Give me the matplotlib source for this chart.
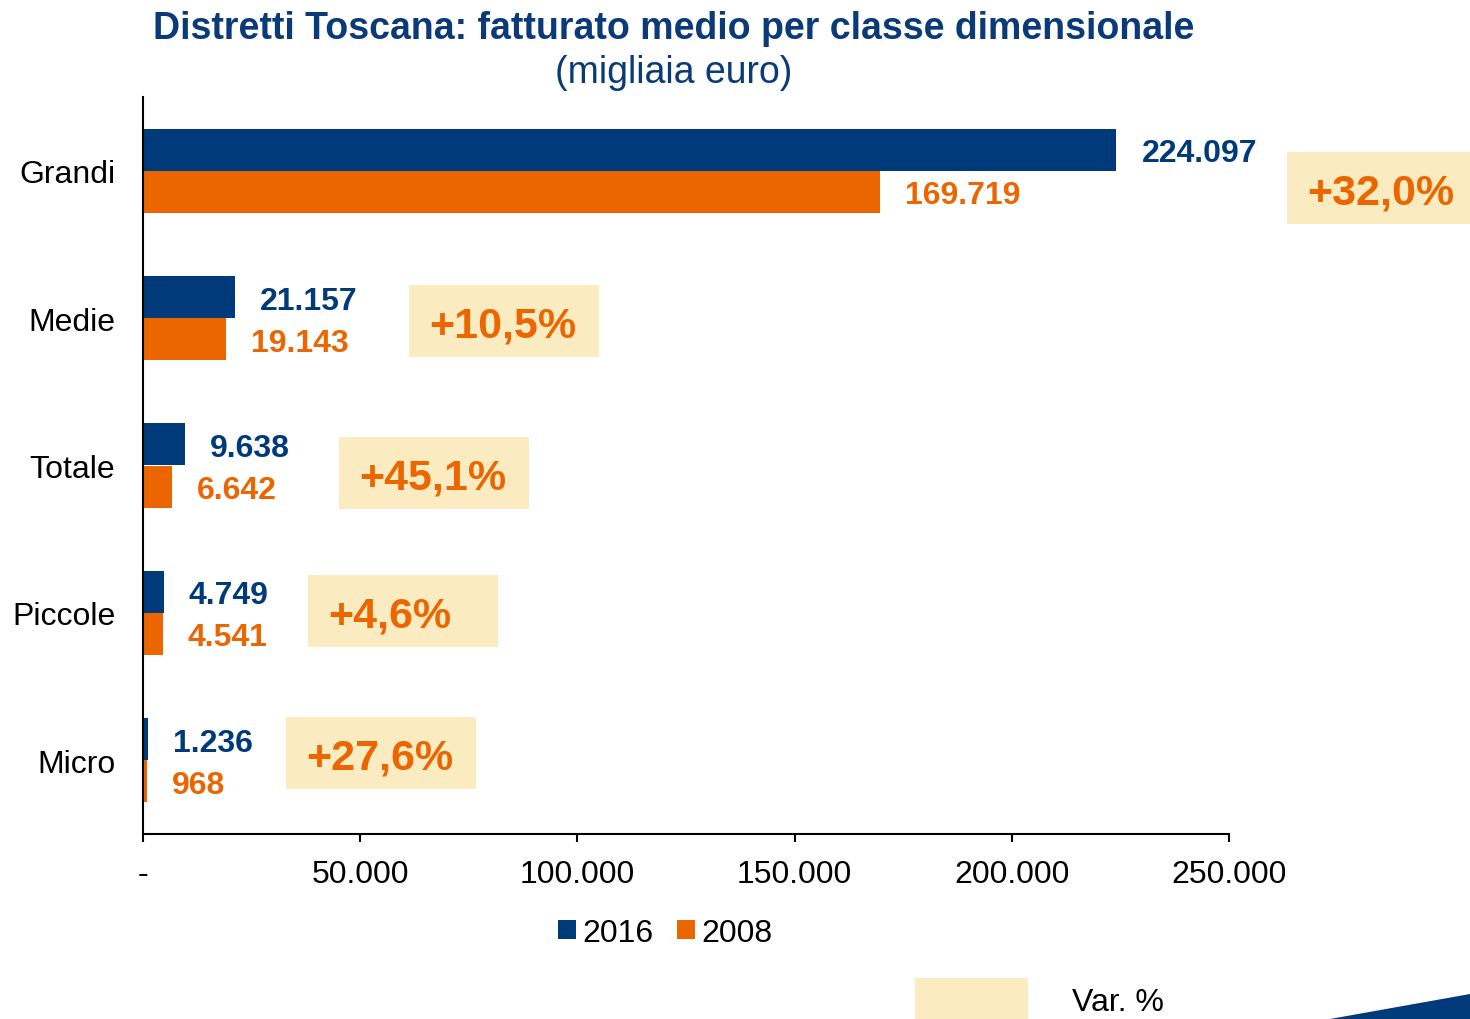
import matplotlib
matplotlib.use("Agg")
import matplotlib.pyplot as plt
from matplotlib.patches import Rectangle, Polygon
from matplotlib.ticker import FuncFormatter

# ---------------- data ----------------
categories = ["Grandi", "Medie", "Totale", "Piccole", "Micro"]
values_2016 = [224097, 21157, 9638, 4749, 1236]
values_2008 = [169719, 19143, 6642, 4541, 968]
var_pct = ["+32,0%", "+10,5%", "+45,1%", "+4,6%", "+27,6%"]
series_labels = ["2016", "2008"]
x_ticks = [0, 50000, 100000, 150000, 200000, 250000]

# ---------------- layout (positions only) ----------------
box_left = [263352, 61234, 45120, 37983, 32919]      # data x of the Var.% boxes
box_dy = [0.12, 0.02, 0.05, -0.01, -0.05]            # vertical offset of boxes (category units)

BLUE = "#003A7A"
ORANGE = "#EB6600"
BOX = "#FAEBC0"
TITLE = "#0B3A78"

plt.rcParams["font.family"] = ["Liberation Sans", "DejaVu Sans"]

fig = plt.figure(figsize=(14.7, 10.2), dpi=100)
ax = fig.add_axes([143/1470, 1 - 835/1020, (1229-143)/1470, (835-98)/1020])

n = len(categories)
ypos = list(range(n))
h = 0.285
ax.barh([y - h/2 for y in ypos], values_2016, height=h, color=BLUE, label=series_labels[0])
ax.barh([y + h/2 for y in ypos], values_2008, height=h, color=ORANGE, label=series_labels[1])

ax.set_xlim(0, 250000)
ax.set_ylim(n - 0.5, -0.5)
ax.set_yticks(ypos)
ax.set_yticklabels(categories, fontsize=23)
ax.tick_params(axis="y", length=0, pad=20)
ax.set_xticks(x_ticks)
ax.xaxis.set_major_formatter(FuncFormatter(
    lambda v, p: "-" if v == 0 else f"{int(v):,}".replace(",", ".")))
ax.tick_params(axis="x", length=6, width=1.5, pad=12, labelsize=23, direction="out")
for s in ["top", "right"]:
    ax.spines[s].set_visible(False)
ax.spines["left"].set_linewidth(1.5)
ax.spines["bottom"].set_linewidth(1.5)

fmt = lambda v: f"{v:,}".replace(",", ".")
for i in range(n):
    ax.annotate(fmt(values_2016[i]), (values_2016[i], i - h/2), xytext=(18, 0),
                textcoords="offset points", va="center_baseline", ha="left",
                fontsize=23, fontweight="bold", color=BLUE, annotation_clip=False)
    ax.annotate(fmt(values_2008[i]), (values_2008[i], i + h/2), xytext=(18, 0),
                textcoords="offset points", va="center_baseline", ha="left",
                fontsize=23, fontweight="bold", color=ORANGE, annotation_clip=False)
    bw = 43738
    bh = 72 / 147.4
    yc = i + box_dy[i]
    ax.add_patch(Rectangle((box_left[i], yc - bh/2), bw, bh, facecolor=BOX,
                           edgecolor="none", clip_on=False, zorder=1))
    ax.annotate(var_pct[i], (box_left[i], yc), xytext=(14.5, 0),
                textcoords="offset points", ha="left", va="center_baseline",
                fontsize=31, fontweight="bold", color=ORANGE,
                annotation_clip=False, zorder=2)

# title
fig.text(674/1470, 1 - 29/1020, "Distretti Toscana: fatturato medio per classe dimensionale",
         ha="center", va="center", fontsize=27, fontweight="bold", color=TITLE)
fig.text(674/1470, 1 - 73/1020, "(migliaia euro)", ha="center", va="center",
         fontsize=27, color=TITLE)

# legend
leg = fig.legend(loc="center", bbox_to_anchor=(665/1470, 1 - 934/1020), ncol=2,
                 frameon=False, fontsize=23, handlelength=0.55, handleheight=0.55,
                 handletextpad=0.2, columnspacing=0.75)

# Var. % legend item
fig.patches.append(Rectangle((915/1470, 0), 113/1470, 41/1020, transform=fig.transFigure,
                             facecolor=BOX, edgecolor="none"))
fig.text(1072/1470, 1 - 1003/1020, "Var. %", ha="left", va="center", fontsize=23)

# decorative triangle bottom right
fig.patches.append(Polygon([(1330/1470, 0), (1, 25/1020), (1, 0)], closed=True,
                           transform=fig.transFigure, facecolor=BLUE, edgecolor="none"))

fig.savefig("out.png", dpi=100)
